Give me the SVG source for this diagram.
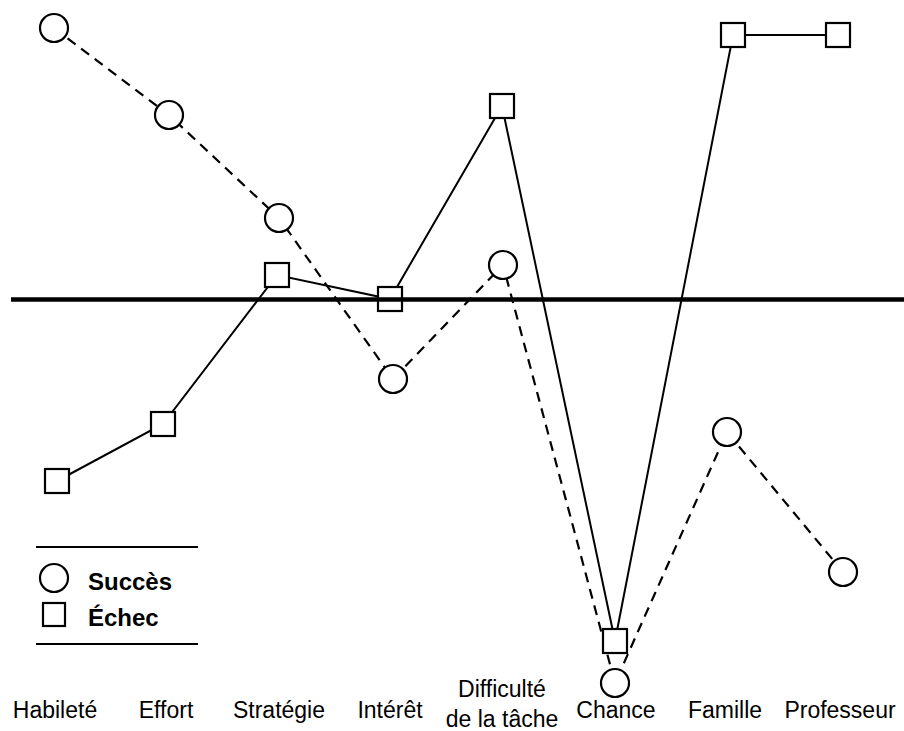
<svg xmlns="http://www.w3.org/2000/svg" width="904" height="731" viewBox="0 0 904 731">
<style>
.lbl{font-family:"Liberation Sans",Arial,sans-serif;font-size:23px;fill:#000;text-anchor:middle}
.leg{font-family:"Liberation Sans",Arial,sans-serif;font-size:24px;font-weight:bold;fill:#000}
.sol{fill:none;stroke:#000;stroke-width:2}
.dash{fill:none;stroke:#000;stroke-width:2.2;stroke-dasharray:10 7}
.c{fill:#fff;stroke:#000;stroke-width:2.2}
.s{fill:#fff;stroke:#000;stroke-width:2.2}
</style>
<rect width="904" height="731" fill="#fff"/>
<g id="connectors">
<polyline class="dash" points="54,28 169,115 279,218 393,379 503,265 615,683 727,432 843,572"/>
<polyline class="sol" points="57,481 163,424 277,275 390,299 502,106 615,641 733,35 838,35"/>
</g>
<g id="succes-points">
<circle class="c" cx="54" cy="28" r="14"/>
<circle class="c" cx="169" cy="115" r="14"/>
<circle class="c" cx="279" cy="218" r="14"/>
<circle class="c" cx="393" cy="379" r="14"/>
<circle class="c" cx="503" cy="265" r="14"/>
<circle class="c" cx="615" cy="683" r="14"/>
<circle class="c" cx="727" cy="432" r="14"/>
<circle class="c" cx="843" cy="572" r="14"/>
</g>
<g id="echec-points">
<rect class="s" x="45" y="469" width="24" height="24"/>
<rect class="s" x="151" y="412" width="24" height="24"/>
<rect class="s" x="265" y="263" width="24" height="24"/>
<rect class="s" x="378" y="287" width="24" height="24"/>
<rect class="s" x="490" y="94" width="24" height="24"/>
<rect class="s" x="603" y="629" width="24" height="24"/>
<rect class="s" x="721" y="23" width="24" height="24"/>
<rect class="s" x="826" y="23" width="24" height="24"/>
</g>
<g id="axis">
<line x1="11" y1="299.5" x2="904" y2="299.5" stroke="#000" stroke-width="4.5"/>
</g>
<g id="legend">
<line x1="36" y1="547" x2="198" y2="547" stroke="#000" stroke-width="2"/>
<circle class="c" cx="54" cy="578" r="14"/>
<text class="leg" x="88" y="590">Succès</text>
<rect class="s" x="43" y="603" width="22" height="23"/>
<text class="leg" x="88" y="626">Échec</text>
<line x1="36" y1="644" x2="198" y2="644" stroke="#000" stroke-width="2"/>
</g>
<g id="labels">
<text class="lbl" x="55" y="718">Habileté</text>
<text class="lbl" x="166" y="718">Effort</text>
<text class="lbl" x="279" y="718">Stratégie</text>
<text class="lbl" x="390" y="718">Intérêt</text>
<text class="lbl" x="502" y="697">Difficulté</text>
<text class="lbl" x="502" y="727">de la tâche</text>
<text class="lbl" x="616" y="718">Chance</text>
<text class="lbl" x="725" y="718">Famille</text>
<text class="lbl" x="840" y="718">Professeur</text>
</g>
</svg>
